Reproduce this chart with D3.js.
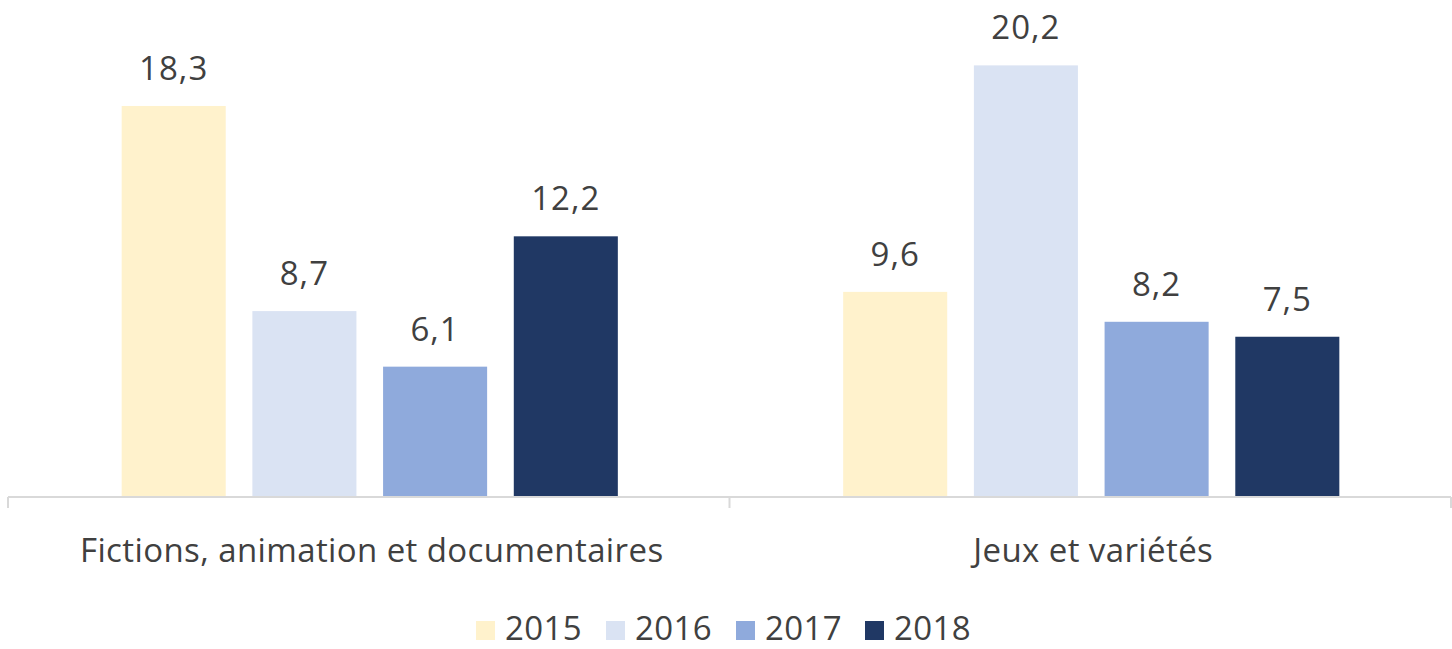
<!DOCTYPE html>
<html><head><meta charset="utf-8">
<script src="https://cdn.jsdelivr.net/npm/d3@7"></script>
<style>body{margin:0;background:#fff;}svg{display:block;}</style>
</head><body>
<svg id="chart" width="1452" height="649"></svg>
<script>
const categories = ["Fictions, animation et documentaires", "Jeux et variétés"];
const seriesNames = ["2015", "2016", "2017", "2018"];
const values2015 = [18.3, 9.6];
const values2016 = [8.7, 20.2];
const values2017 = [6.1, 8.2];
const values2018 = [12.2, 7.5];
const colors = ["#FFF2CC", "#DAE3F3", "#8FAADC", "#203864"];

const seriesValues = [values2015, values2016, values2017, values2018];
const fmt = v => v.toFixed(1).replace(".", ",");
const font = "'Open Sans', sans-serif";
const textColor = "#404040";
const fs = 33, ls = 0.4;

const svg = d3.select("#chart");
const x0 = d3.scaleBand().domain(categories).range([8, 1451]).padding(0);
const x1 = d3.scaleBand().domain(seriesNames).range([0, x0.bandwidth()])
  .paddingInner(0.204).paddingOuter(0.862);
const y = d3.scaleLinear().domain([0, 23.26]).range([497, 0]);

const groups = svg.selectAll("g.cat").data(categories).join("g")
  .attr("transform", c => `translate(${x0(c) + 1},0)`);

groups.each(function(c, ci) {
  const g = d3.select(this);
  seriesNames.forEach((s, si) => {
    const v = seriesValues[si][ci];
    g.append("rect")
      .attr("x", x1(s)).attr("y", y(v))
      .attr("width", x1.bandwidth()).attr("height", y(0) - y(v))
      .attr("fill", colors[si]);
    g.append("text")
      .attr("x", x1(s) + x1.bandwidth() / 2).attr("y", y(v) - 26)
      .attr("text-anchor", "middle").attr("font-family", font)
      .attr("font-size", fs).attr("letter-spacing", ls + 0.6)
      .attr("fill", textColor).text(fmt(v));
  });
});

// axis
const axis = d3.axisBottom(x0).tickSize(0).tickFormat("");
const ag = svg.append("g").attr("transform", `translate(0,${y(0)})`).call(axis);
ag.select(".domain").attr("stroke", "#d9d9d9").attr("stroke-width", 2)
  .attr("d", `M${x0.range()[0]},0H${x0.range()[1]}`);
const edges = [x0.range()[0], x0(categories[1]), x0.range()[1]];
ag.selectAll("line.sep").data(edges).join("line").attr("class", "sep")
  .attr("x1", d => d).attr("x2", d => d).attr("y1", 0).attr("y2", 11)
  .attr("stroke", "#d9d9d9").attr("stroke-width", 2);
ag.selectAll("text.cat").data(categories).join("text").attr("class", "cat")
  .attr("x", c => x0(c) + x0.bandwidth() / 2 + 3).attr("y", 65)
  .attr("text-anchor", "middle").attr("font-family", font)
  .attr("font-size", fs).attr("letter-spacing", ls)
  .attr("fill", textColor).text(c => c);

// legend
const legendX = [476, 606, 736, 865];
const lg = svg.append("g");
seriesNames.forEach((s, i) => {
  lg.append("rect").attr("x", legendX[i]).attr("y", 621).attr("width", 19).attr("height", 19)
    .attr("fill", colors[i]);
  lg.append("text").attr("x", legendX[i] + 29).attr("y", 640)
    .attr("font-family", font).attr("font-size", fs).attr("letter-spacing", ls)
    .attr("fill", textColor).text(s);
});
</script>
</body></html>
